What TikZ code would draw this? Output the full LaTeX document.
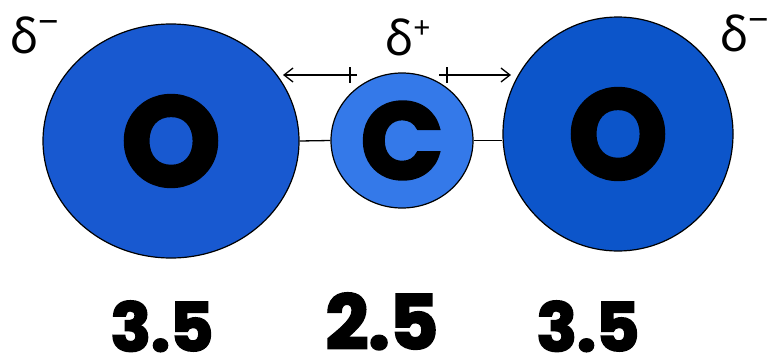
\documentclass[tikz,border=0pt]{standalone}
\usepackage{fontspec}
\setmainfont{Poppins}
\newfontfamily\heavyfont{Poppins}[BoldFeatures={FakeBold=3}]
\newfontfamily\deltafont{Noto Sans}
\usepackage{tikz}
\usetikzlibrary{shapes.geometric, arrows.meta}

\definecolor{oxyleft}{RGB}{24,89,208}
\definecolor{oxyright}{RGB}{12,85,202}
\definecolor{carbfill}{RGB}{52,121,233}

\begin{document}
\begin{tikzpicture}[
  x=1pt, y=-1pt,
  atom/.style={ellipse, draw, line width=1.2pt, inner sep=0pt},
  bond/.style={line width=1.3pt},
  dip/.style={-{Straight Barb[length=9pt, width=14pt]}, line width=1.3pt},
  charge/.style={font=\deltafont\fontsize{48}{48}\selectfont, anchor=base west, inner sep=0pt},
  en/.style={font=\heavyfont\bfseries\fontsize{67}{67}\selectfont, anchor=base, inner sep=0pt}
]
  \useasboundingbox (0,0) rectangle (768,359);

  % atoms
  \node[atom, fill=oxyleft, minimum width=256pt, minimum height=234pt,
        font=\heavyfont\bfseries\fontsize{126}{126}\selectfont] (oleft) at (171,141) {O};
  \node[atom, fill=carbfill, minimum width=142pt, minimum height=135pt,
        font=\heavyfont\bfseries\fontsize{108}{108}\selectfont] (carbon) at (402,140.5) {C};
  \node[atom, fill=oxyright, minimum width=230pt, minimum height=234pt,
        font=\heavyfont\bfseries\fontsize{126}{126}\selectfont] (oright) at (618,134) {O};

  % bonds
  \draw[bond] (oleft.east) -- (carbon.west);
  \draw[bond] (carbon.east) -- (carbon.east -| oright.west);

  % dipole arrows
  \coordinate (dipLtail) at (357,75);
  \coordinate (dipLhead) at (283,75);
  \coordinate (dipLtick) at (350,75);
  \coordinate (dipRtail) at (439,75);
  \coordinate (dipRhead) at (511,75);
  \coordinate (dipRtick) at (447,75);
  \draw[dip] (dipLtail) -- (dipLhead);
  \draw[bond] ([yshift=8pt]dipLtick) -- ([yshift=-8pt]dipLtick);
  \draw[dip] (dipRtail) -- (dipRhead);
  \draw[bond] ([yshift=8pt]dipRtick) -- ([yshift=-8pt]dipRtick);

  % partial charges
  \node[charge] (qleft) at (10,53) {δ\raisebox{19pt}{\fontsize{36}{36}\selectfont −}};
  \node[charge] (qcarb) at (385,55) {δ\raisebox{17pt}{\fontsize{30}{30}\selectfont +}};
  \node[charge] (qright) at (720,51) {δ\raisebox{19pt}{\fontsize{36}{36}\selectfont −}};

  % electronegativities
  \node[en] (enleft) at (162,351) {3.5};
  \node[en, font=\heavyfont\bfseries\fontsize{75}{75}\selectfont] (encarb) at (382,349) {2.5};
  \node[en] (enright) at (588,351) {3.5};
\end{tikzpicture}
\end{document}
